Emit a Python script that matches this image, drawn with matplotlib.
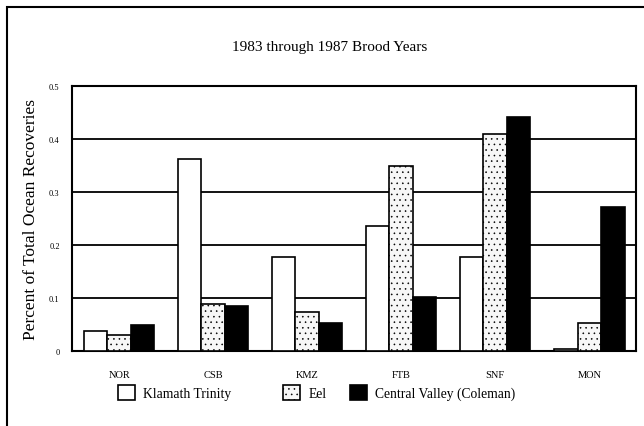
import matplotlib
matplotlib.use("Agg")
import matplotlib.pyplot as plt
import numpy as np
from matplotlib.patches import Rectangle, Patch

categories = ["NOR", "CSB", "KMZ", "FTB", "SNF", "MON"]
klamath = [0.038, 0.362, 0.178, 0.236, 0.178, 0.003]
eel = [0.029, 0.088, 0.074, 0.350, 0.410, 0.052]
central = [0.048, 0.084, 0.052, 0.101, 0.442, 0.272]
series_names = ["Klamath Trinity", "Eel", "Central Valley (Coleman)"]
yticks = [0, 0.1, 0.2, 0.3, 0.4, 0.5]
ytick_labels = ["0", "0.1", "0.2", "0.3", "0.4", "0.5"]

plt.rcParams['font.family'] = ['Liberation Serif', 'DejaVu Serif']
plt.rcParams['hatch.color'] = '#a0a0a0'
plt.rcParams['hatch.linewidth'] = 0.4

fig = plt.figure(figsize=(6.44, 4.27), dpi=100)
ax = fig.add_axes([0.112, 0.176, 0.876, 0.620])

x = np.arange(len(categories))
w = 0.25
ax.bar(x - w, klamath, w, color='white', edgecolor='black', linewidth=1.2, zorder=3)
ax.bar(x, eel, w, color='#f7f7f7', edgecolor='black', linewidth=1.2, hatch='...', zorder=3)
ax.bar(x + w, central, w, color='black', edgecolor='black', linewidth=1.2, zorder=3)

ax.set_xlim(-0.5, len(categories) - 0.5)
ax.set_ylim(0, 0.5)
ax.set_yticks(yticks)
ax.set_yticklabels(ytick_labels, fontsize=6)
ax.set_xticks(x)
ax.set_xticklabels(categories, fontsize=7.5)
ax.tick_params(axis='y', length=0, pad=9)
ax.tick_params(axis='x', length=0, pad=14)
ax.yaxis.grid(True, color='black', linewidth=1.3, zorder=0)
ax.set_axisbelow(True)
for s in ax.spines.values():
    s.set_linewidth(1.5)
    s.set_color('black')

ax.set_ylabel("Percent of Total Ocean Recoveries", fontsize=12.5, labelpad=7)
fig.text(0.512, 0.888, "1983 through 1987 Brood Years", ha='center', va='center', fontsize=11)

handles = [
    Patch(facecolor='white', edgecolor='black', linewidth=1.2),
    Patch(facecolor='#f7f7f7', edgecolor='black', linewidth=1.2, hatch='...'),
    Patch(facecolor='black', edgecolor='black', linewidth=1.2),
]
leg_x = [118, 283, 350]
for h, name, lx in zip(handles, series_names, leg_x):
    fig.legend([h], [name], loc='center left', bbox_to_anchor=(lx / 644 - 0.006, 0.078),
               frameon=False, fontsize=9.8, handlelength=1.25, handleheight=1.25,
               handletextpad=0.6, borderaxespad=0, borderpad=0.3)

fig.patches.append(Rectangle((0.011, -0.05), 1.2, 1.032, transform=fig.transFigure,
                             fill=False, edgecolor='black', linewidth=1.5))

fig.savefig("out.png", dpi=100)
